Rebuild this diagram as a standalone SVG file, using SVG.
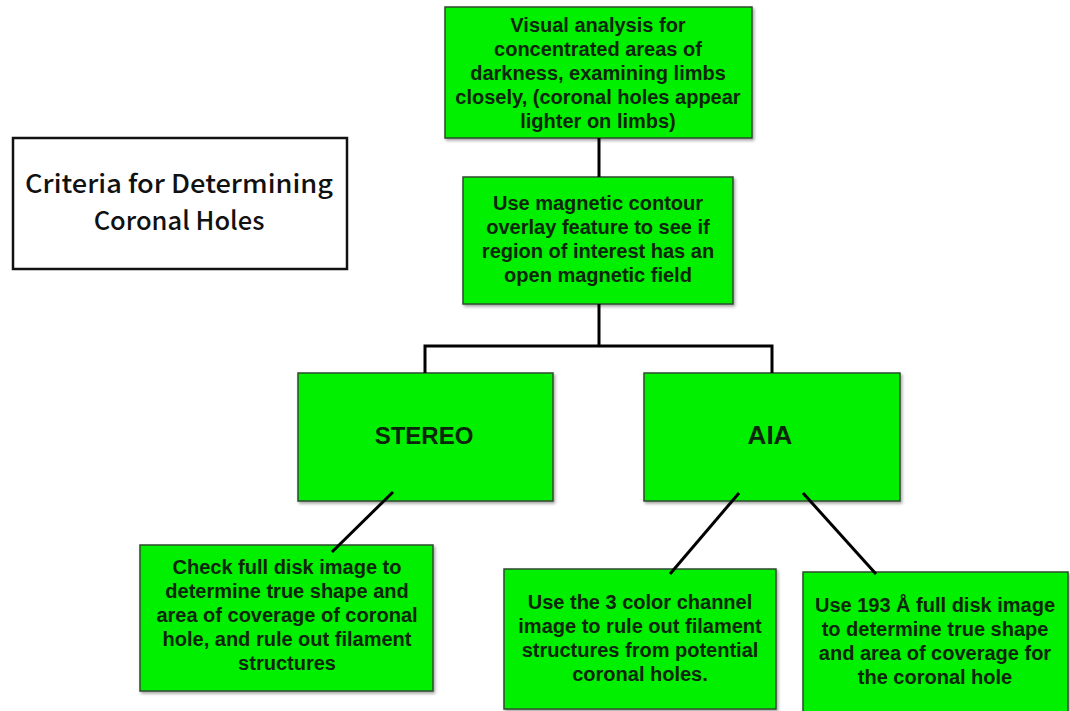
<svg xmlns="http://www.w3.org/2000/svg" width="1070" height="711" viewBox="0 0 1070 711">
<defs>
<filter id="sh" x="-5%" y="-5%" width="115%" height="120%">
<feDropShadow dx="1.5" dy="2" stdDeviation="1.5" flood-color="#000" flood-opacity="0.35"/>
</filter>
</defs>
<style>
.box{fill:#00f000;stroke:#2e4a2e;stroke-width:1.5;filter:url(#sh)}
.t{font-family:"Liberation Sans",Arial,sans-serif;font-weight:bold;font-size:20px;fill:#0c260c;text-anchor:middle}
.big{font-size:24px}
.title{font-family:"Noto Sans CJK KR","Noto Sans",sans-serif;font-weight:500;font-size:25.5px;fill:#111;text-anchor:middle}
.c{stroke:#000;stroke-width:3;fill:none}
</style>
<rect width="1070" height="711" fill="#fff"/>
<g id="title">
<rect x="13" y="138" width="334" height="131" fill="#fff" stroke="#111" stroke-width="2.5"/>
<text class="title" x="179" y="193" textLength="308" lengthAdjust="spacingAndGlyphs">Criteria for Determining</text>
<text class="title" x="179" y="230">Coronal Holes</text>
</g>
<g id="visual">
<rect class="box" x="445" y="7" width="307" height="131"/>
<text class="t" x="598" y="32">Visual analysis for</text>
<text class="t" x="598" y="56">concentrated areas of</text>
<text class="t" x="598" y="80">darkness, examining limbs</text>
<text class="t" x="598" y="104">closely, (coronal holes appear</text>
<text class="t" x="598" y="128">lighter on limbs)</text>
</g>
<g id="magnetic">
<rect class="box" x="463" y="177" width="270" height="127"/>
<text class="t" x="598" y="210">Use magnetic contour</text>
<text class="t" x="598" y="234">overlay feature to see if</text>
<text class="t" x="598" y="258">region of interest has an</text>
<text class="t" x="598" y="282">open magnetic field</text>
</g>
<g id="stereo">
<rect class="box" x="298" y="373" width="255" height="128"/>
<text class="t big" x="424" y="444">STEREO</text>
</g>
<g id="aia">
<rect class="box" x="644" y="373" width="256" height="128"/>
<text class="t big" x="770" y="444" style="font-size:26px">AIA</text>
</g>
<g id="stereo-check">
<rect class="box" x="140" y="545" width="293" height="146"/>
<text class="t" x="287" y="574">Check full disk image to</text>
<text class="t" x="287" y="598">determine true shape and</text>
<text class="t" x="287" y="622">area of coverage of coronal</text>
<text class="t" x="287" y="646">hole, and rule out filament</text>
<text class="t" x="287" y="670">structures</text>
</g>
<g id="aia-3color">
<rect class="box" x="504" y="569" width="272" height="140"/>
<text class="t" x="640" y="609">Use the 3 color channel</text>
<text class="t" x="640" y="633">image to rule out filament</text>
<text class="t" x="640" y="657">structures from potential</text>
<text class="t" x="640" y="681">coronal holes.</text>
</g>
<g id="aia-193">
<rect class="box" x="803" y="572" width="265" height="145"/>
<text class="t" x="935" y="612">Use 193 Å full disk image</text>
<text class="t" x="935" y="636">to determine true shape</text>
<text class="t" x="935" y="660">and area of coverage for</text>
<text class="t" x="935" y="684">the coronal hole</text>
</g>
<g id="connectors">
<line class="c" x1="599" y1="138" x2="599" y2="177"/>
<polyline class="c" points="599,304 599,346"/>
<polyline class="c" points="425,373 425,346 772,346 772,373"/>
<line class="c" x1="393" y1="492" x2="332" y2="552"/>
<line class="c" x1="739" y1="493" x2="670" y2="574"/>
<line class="c" x1="803" y1="493" x2="876" y2="574"/>
</g>
</svg>
